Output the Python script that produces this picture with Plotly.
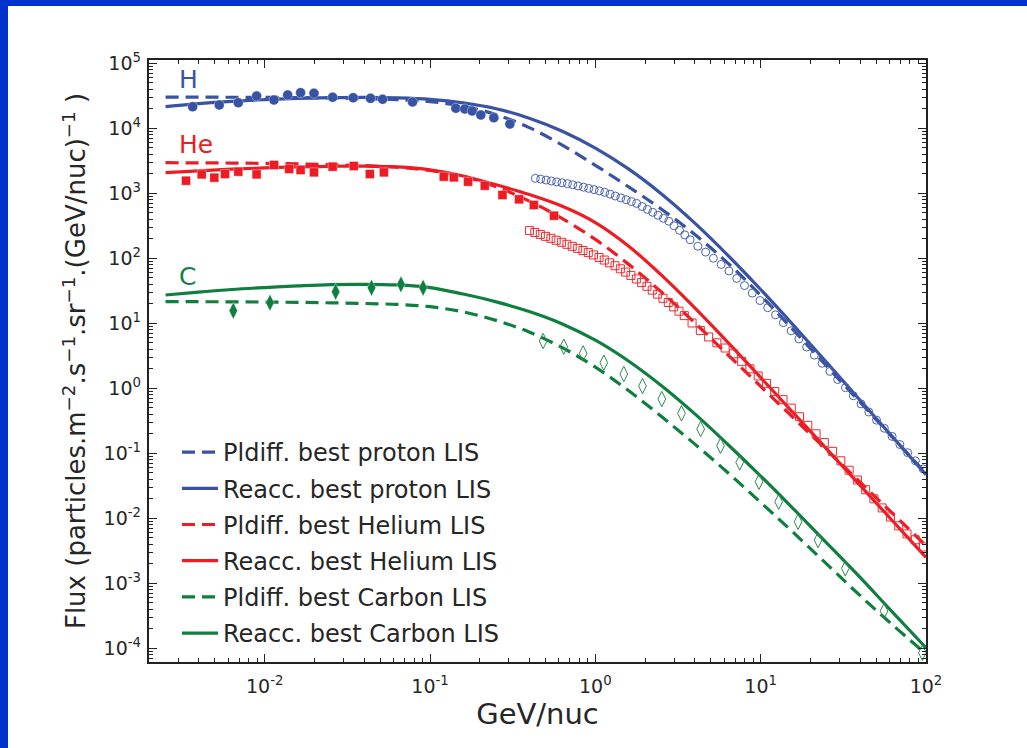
import plotly.graph_objects as go
import numpy as np

# ---------------- data ----------------
# model curves: common energy grid (GeV/nuc)
E_model = [0.002512, 0.003981, 0.006310, 0.01, 0.01585, 0.02512, 0.03981, 0.06310,
           0.1, 0.1585, 0.2512, 0.3981, 0.6310, 1.0, 1.585, 2.512, 3.981, 6.310,
           10.0, 15.85, 25.12, 39.81, 63.10, 100.0]

H_pldiff = [30060, 30060, 29990, 29850, 29650, 29240, 28510, 27540, 25700, 21880,
            16220, 10230, 5495, 2692, 1259, 568.9, 234.4, 85.11, 26.92, 7.762,
            2.188, 0.6166, 0.1738, 0.04898]
H_reacc = [21530, 23990, 26000, 27540, 28840, 29650, 29920, 29380, 27860, 24550,
           19950, 14290, 9016, 4955, 2371, 977.2, 350.8, 112.2, 33.11, 9.226,
           2.483, 0.6607, 0.1758, 0.04677]
He_pldiff = [2951, 2938, 2917, 2884, 2831, 2754, 2661, 2512, 2239, 1820,
             1259, 758.6, 407.4, 195.0, 81.28, 30.20, 10.23, 3.311, 1.072, 0.3467,
             0.1122, 0.03631, 0.01175, 0.003802]
He_reacc = [2080, 2213, 2344, 2455, 2541, 2600, 2618, 2541, 2291, 1841,
            1349, 955.0, 631.0, 354.8, 154.9, 54.95, 17.38, 5.129, 1.462, 0.4121,
            0.1161, 0.03236, 0.009016, 0.002512]
C_pldiff = [21.48, 21.48, 21.38, 21.23, 20.99, 20.65, 20.18, 19.50, 17.99, 14.96,
            11.09, 7.328, 4.217, 2.113, 0.9226, 0.3673, 0.1396, 0.05070, 0.01758,
            0.005957, 0.001972, 0.0006531, 0.0002265, 0.00008222]
C_reacc = [27.23, 30.20, 33.11, 35.48, 37.58, 39.36, 39.81, 38.90, 35.48, 28.18,
           21.38, 15.14, 9.772, 5.495, 2.630, 1.096, 0.4074, 0.1380, 0.04467,
           0.01380, 0.004169, 0.001245, 0.0003548, 0.0001023]

# low-energy data (filled markers)
H_lo_E = [0.003664, 0.005309, 0.006918, 0.008933, 0.01138, 0.01377, 0.01648, 0.01986,
          0.02576, 0.03428, 0.04365, 0.05164, 0.07834, 0.1432, 0.1622, 0.1799,
          0.2028, 0.2432, 0.3041]
H_lo_F = [21480, 22800, 24720, 31330, 27230, 32510, 35240, 34510, 29920, 29510,
          28840, 27860, 25350, 20280, 19770, 18410, 15990, 14550, 11610]

He_lo_E = [0.003342, 0.004159, 0.004955, 0.005754, 0.006918, 0.008933, 0.01138,
           0.01406, 0.01648, 0.01986, 0.02576, 0.03459, 0.04325, 0.05260, 0.1211,
           0.1393, 0.1698, 0.2143, 0.2742, 0.3459, 0.4246, 0.5623]
He_lo_F = [1560, 1954, 1738, 1977, 2148, 1954, 2723, 2360, 2280, 2099, 2564, 2624,
           1977, 2099, 1799, 1758, 1507, 1309, 939.7, 807.2, 659.2, 451.9]

C_lo_E = [0.006457, 0.01076, 0.02685, 0.04426, 0.06668, 0.09078]
C_lo_F = [15.60, 20.75, 30.55, 35.24, 39.72, 35.24]

# high-energy data (open markers)
H_hi_E = [0.4335, 0.4667, 0.5035, 0.542, 0.5834, 0.6281, 0.6776, 0.7295, 0.7852,
          0.8472, 0.912, 0.9817, 1.057, 1.140, 1.227, 1.321, 1.426, 1.535, 1.652,
          1.778, 1.919, 2.065, 2.223, 2.393, 2.582, 2.780, 2.992, 3.228, 3.475,
          3.741, 4.169, 4.645, 5.176, 5.768, 6.427, 7.161, 7.980, 8.892, 9.908,
          11.04, 12.30, 13.71, 15.28, 17.02, 18.97, 21.13, 23.55, 26.24, 29.24,
          32.58, 36.31, 40.46, 45.08, 50.23, 55.98, 62.37, 69.50, 77.45, 86.30, 96.16]
H_hi_F = [1698, 1648, 1596, 1545, 1496, 1452, 1406, 1352, 1297, 1242, 1189, 1138,
          1089, 1035, 970.5, 907.8, 849.2, 796.2, 744.7, 698.2, 626.6, 564.9, 509.3,
          459.2, 412.1, 371.5, 316.2, 269.2, 229.1, 192.8, 153.1, 124.5, 100.0,
          80.35, 63.83, 48.98, 38.02, 29.17, 22.39, 17.38, 13.49, 10.23, 7.674,
          5.754, 4.315, 3.236, 2.427, 1.820, 1.365, 1.023, 0.7674, 0.5754, 0.4315,
          0.3236, 0.2427, 0.1820, 0.1365, 0.1023, 0.07674, 0.05754]

He_hi_E = [0.3999, 0.4305, 0.4645, 0.5000, 0.5383, 0.5794, 0.6252, 0.6730, 0.7244,
           0.7816, 0.8414, 0.9057, 0.9750, 1.052, 1.132, 1.219, 1.315, 1.416, 1.524,
           1.641, 1.770, 1.905, 2.051, 2.208, 2.382, 2.564, 2.761, 2.979, 3.206,
           3.451, 3.846, 4.315, 4.842, 5.433, 6.095, 6.839, 7.674, 8.610, 9.661,
           10.84, 12.16, 13.65, 15.31, 17.18, 19.28, 21.63, 24.27, 27.23, 30.55,
           34.28, 38.46, 43.15, 48.42, 54.33, 60.95, 68.39, 76.74, 86.10, 96.61]
He_hi_F = [266.7, 249.5, 232.8, 217.3, 202.8, 189.2, 176.2, 164.1, 152.8, 141.9,
           131.8, 122.2, 112.7, 103.0, 93.97, 85.11, 76.74, 68.87, 61.38, 54.45,
           48.08, 42.27, 37.07, 32.36, 28.05, 24.27, 20.89, 17.91, 15.35, 13.12,
           10.12, 7.762, 6.166, 5.012, 4.169, 3.388, 2.600, 1.995, 1.549, 1.191,
           0.8913, 0.6683, 0.4955, 0.3656, 0.2692, 0.1995, 0.1462, 0.1072, 0.07674,
           0.05495, 0.03890, 0.02754, 0.01995, 0.01445, 0.01047, 0.007674, 0.005754,
           0.004677, 0.003631]

C_hi_E = [0.4831, 0.6442, 0.8433, 1.125, 1.486, 1.928, 2.523, 3.319, 4.335, 5.715,
          7.464, 9.772, 12.85, 16.83, 22.23, 32.51, 55.72, 95.06]
C_hi_F = [5.333, 4.365, 3.443, 2.477, 1.660, 1.084, 0.6839, 0.4121, 0.2360, 0.1309,
          0.07244, 0.03656, 0.01799, 0.008851, 0.004624, 0.001698, 0.0003741, 0.00008551]

legend_names = ["Pldiff. best proton LIS", "Reacc. best proton LIS",
                "Pldiff. best Helium LIS", "Reacc. best Helium LIS",
                "Pldiff. best Carbon LIS", "Reacc. best Carbon LIS"]
species_labels = ["H", "He", "C"]
x_tick_vals = [1e-2, 1e-1, 1e0, 1e1, 1e2]
x_tick_text = ["10<sup>-2</sup>", "10<sup>-1</sup>", "10<sup>0</sup>", "10<sup>1</sup>", "10<sup>2</sup>"]
y_tick_vals = [1e-4, 1e-3, 1e-2, 1e-1, 1e0, 1e1, 1e2, 1e3, 1e4, 1e5]
y_tick_text = ["10<sup>-4</sup>", "10<sup>-3</sup>", "10<sup>-2</sup>", "10<sup>-1</sup>",
               "10<sup>0</sup>", "10<sup>1</sup>", "10<sup>2</sup>", "10<sup>3</sup>",
               "10<sup>4</sup>", "10<sup>5</sup>"]

# ---------------- styling ----------------
BLUE = "#3953A4"
RED = "#ED1C24"
GREEN = "#0F7F3F"
FONT = "DejaVu Sans"
TXT = "#262626"
W, H = 1027, 748
ML, MR, MT, MB = 149, 101, 60, 86
DASH = "13px,7px"

fig = go.Figure()

curves = [(H_pldiff, BLUE, DASH), (H_reacc, BLUE, "solid"),
          (He_pldiff, RED, DASH), (He_reacc, RED, "solid"),
          (C_pldiff, GREEN, DASH), (C_reacc, GREEN, "solid")]
for i, (ys, col, dash) in enumerate(curves):
    fig.add_trace(go.Scatter(
        x=E_model, y=ys, mode="lines", name=legend_names[i],
        legendgroup="g%d" % i,
        line=dict(color=col, width=3.2, dash=dash, shape="spline", smoothing=1.0),
    ))

markers = [
    (H_lo_E, H_lo_F, BLUE, "circle", 10, None),
    (He_lo_E, He_lo_F, RED, "square", 9, None),
    (C_lo_E, C_lo_F, GREEN, "diamond-tall", 12, None),
    (H_hi_E, H_hi_F, "#4A62B0", "circle-open", 8, 1),
    (He_hi_E, He_hi_F, "#EE2A2F", "square-open", 8, 1),
    (C_hi_E, C_hi_F, "#2E8A50", "diamond-tall-open", 11, 1),
]
for xs, ys, col, sym, size, lw in markers:
    mk = dict(color=col, symbol=sym, size=size)
    if lw is None:
        mk["line"] = dict(color="rgba(255,255,255,0.6)", width=0.6)
    else:
        mk["line"] = dict(color=col, width=lw)
    fig.add_trace(go.Scatter(x=xs, y=ys, mode="markers", marker=mk, showlegend=False,
                             hoverinfo="x+y"))

# species labels
label_pos = [(0.00295, 5.7e4, BLUE), (0.00295, 5.7e3, RED), (0.00295, 53, GREEN)]
for txt, (lx, ly, col) in zip(species_labels, label_pos):
    fig.add_annotation(x=np.log10(lx), y=np.log10(ly), text=txt, showarrow=False,
                       xanchor="left", yanchor="middle",
                       font=dict(family=FONT, size=25, color=col))

minor_x = [m * 10.0 ** d for d in range(-3, 2) for m in range(2, 10)]
minor_y = [m * 10.0 ** d for d in range(-5, 5) for m in range(2, 10)]

axis_common = dict(type="log", showline=True, linecolor="#222222", linewidth=2.4,
                   mirror="allticks", ticks="inside", ticklen=8, tickwidth=1.2,
                   tickcolor="#222222", showgrid=False, zeroline=False,
                   tickfont=dict(family=FONT, size=19, color=TXT))

fig.update_xaxes(**axis_common, range=[-2.70, 2.0], tickvals=x_tick_vals, ticktext=x_tick_text,
                 ticklabelstandoff=6,
                 minor=dict(ticks="inside", ticklen=4, tickwidth=1, tickcolor="#222222",
                            tickvals=minor_x, showgrid=False),
                 title=dict(text="GeV/nuc", font=dict(family=FONT, size=29, color=TXT), standoff=8))
fig.update_yaxes(**axis_common, range=[-4.21, 5.05], tickvals=y_tick_vals, ticktext=y_tick_text,
                 ticklabelstandoff=2,
                 minor=dict(ticks="inside", ticklen=4, tickwidth=1, tickcolor="#222222",
                            tickvals=minor_y, showgrid=False),
                 title=dict(text="Flux (particles.m<sup>\u22122</sup>.s<sup>\u22121</sup>.sr<sup>\u22121</sup>.(GeV/nuc)<sup>\u22121</sup> )",
                            font=dict(family=FONT, size=26, color=TXT), standoff=10))

# blue frame strips (top and left), positioned in paper coordinates
pw, ph = W - ML - MR, H - MT - MB
def px(xp):
    return (xp - ML) / pw
def py(yp):
    return (H - MB - yp) / ph
fig.add_shape(type="rect", xref="paper", yref="paper", x0=px(0), x1=px(8), y0=py(H), y1=py(0),
              fillcolor="#0033CC", line=dict(width=0), layer="above")
fig.add_shape(type="rect", xref="paper", yref="paper", x0=px(0), x1=px(W), y0=py(6), y1=py(0),
              fillcolor="#0033CC", line=dict(width=0), layer="above")

fig.update_layout(
    width=W, height=H, margin=dict(l=ML, r=MR, t=MT, b=MB),
    paper_bgcolor="white", plot_bgcolor="white",
    font=dict(family=FONT, color=TXT),
    legend=dict(x=px(177), y=py(430), xanchor="left", yanchor="top",
                bgcolor="rgba(0,0,0,0)", borderwidth=0, traceorder="grouped",
                tracegroupgap=2, itemwidth=36,
                font=dict(family=FONT, size=24, color=TXT)),
)

fig.write_html("out.html")
